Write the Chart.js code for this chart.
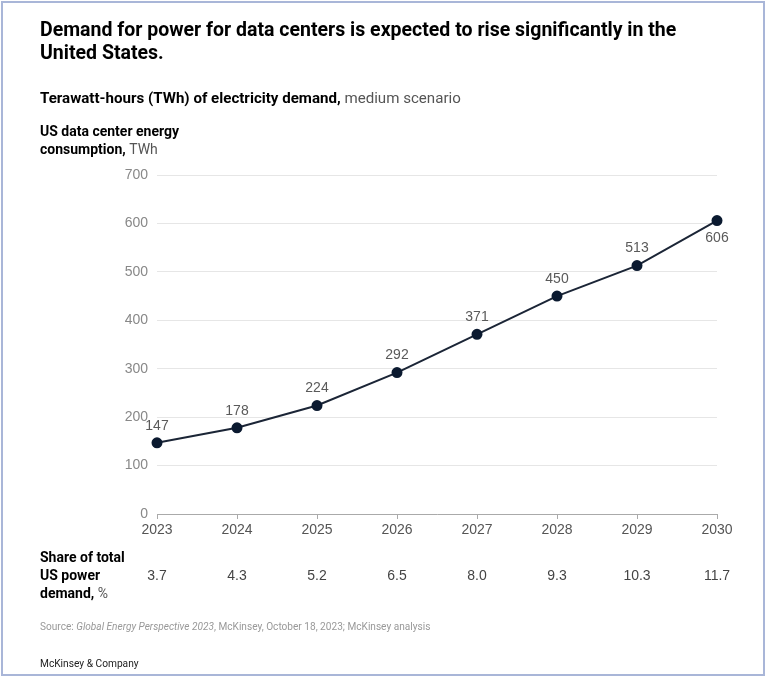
<!DOCTYPE html>
<html>
<head>
<meta charset="utf-8">
<script src="https://cdn.jsdelivr.net/npm/chart.js@4"></script>
<style>
  html, body { margin:0; padding:0; background:#fff; }
  body { width:768px; height:679px; position:relative; overflow:hidden; font-family:"Roboto","Liberation Sans",sans-serif; color:#000; }
  .frame { position:absolute; left:1px; top:1px; width:764px; height:675px; border:2px solid #a9b6d8; box-sizing:border-box; }
  .t { position:absolute; left:40px; white-space:nowrap; }
  #title { top:18px; font-size:19.5px; font-weight:bold; line-height:23px; }
  #sub { top:89px; font-size:15.1px; font-weight:bold; }
  #sub span { font-weight:normal; color:#555; }
  #ytitle { top:122px; font-size:14px; font-weight:bold; line-height:18px; }
  #ytitle span { font-weight:normal; color:#555; }
  #share { top:548px; font-size:14px; font-weight:bold; line-height:18px; }
  #share span { font-weight:normal; color:#555; }
  #source { top:621px; font-size:10.1px; color:#999; }
  #brand { top:658px; font-size:10.2px; color:#222; }
  #wrap { position:absolute; left:0; top:0; width:768px; height:679px; }
</style>
</head>
<body>
<div id="wrap"><canvas id="c"></canvas></div>
<div class="frame"></div>
<div class="t" id="title">Demand for power for data centers is expected to rise significantly in the<br>United States.</div>
<div class="t" id="sub">Terawatt-hours (TWh) of electricity demand, <span>medium scenario</span></div>
<div class="t" id="ytitle">US data center energy<br>consumption, <span>TWh</span></div>
<div class="t" id="share">Share of total<br>US power<br>demand, <span>%</span></div>
<div class="t" id="source">Source: <i>Global Energy Perspective 2023</i>, McKinsey, October 18, 2023; McKinsey analysis</div>
<div class="t" id="brand">McKinsey &amp; Company</div>
<script>
const years = ["2023","2024","2025","2026","2027","2028","2029","2030"];
const demandTWh = [147, 178, 224, 292, 371, 450, 513, 606];
const sharePct = ["3.7","4.3","5.2","6.5","8.0","9.3","10.3","11.7"];
const yTicks = [0, 100, 200, 300, 400, 500, 600, 700];

const labelPlugin = {
  id: 'labels',
  afterDatasetsDraw(chart) {
    const ctx = chart.ctx;
    const meta = chart.getDatasetMeta(0);
    const xs = chart.scales.x;
    ctx.save();
    ctx.font = '14px "Liberation Sans", Arial, sans-serif';
    ctx.fillStyle = '#5a5a5a';
    ctx.textAlign = 'center';
    meta.data.forEach((pt, i) => {
      const last = i === demandTWh.length - 1;
      if (last) {
        ctx.textBaseline = 'top';
        ctx.fillText(String(demandTWh[i]), pt.x, pt.y + 11);
      } else {
        ctx.textBaseline = 'bottom';
        ctx.fillText(String(demandTWh[i]), pt.x, pt.y - 10);
      }
    });
    ctx.textBaseline = 'middle';
    ctx.fillStyle = '#444';
    sharePct.forEach((v, i) => {
      ctx.fillText(v, xs.getPixelForValue(i), 576);
    });
    ctx.restore();
  }
};

new Chart(document.getElementById('c'), {
  type: 'line',
  data: {
    labels: years,
    datasets: [{
      data: demandTWh,
      borderColor: '#1b2536',
      borderWidth: 2,
      pointBackgroundColor: '#0b1a30',
      pointBorderColor: '#0b1a30',
      pointRadius: 4.5,
      pointHoverRadius: 4.5,
      tension: 0,
      clip: false
    }]
  },
  options: {
    responsive: true,
    maintainAspectRatio: false,
    animation: false,
    events: [],
    layout: { padding: { left: 100, top: 175, right: 51, bottom: 135 } },
    plugins: { legend: { display: false }, tooltip: { enabled: false } },
    scales: {
      x: {
        offset: false,
        grid: { drawOnChartArea: false, drawTicks: true, tickLength: 5, color: '#aaa' },
        border: { display: true, color: '#aaa', width: 1 },
        ticks: { color: '#555', font: { size: 14, family: '"Liberation Sans", Arial, sans-serif' }, padding: 3, maxRotation: 0, autoSkip: false },
        afterFit(s) { s.height = 30; }
      },
      y: {
        min: 0, max: 700,
        afterBuildTicks(s) { s.ticks = yTicks.map(v => ({ value: v })); },
        grid: { color: '#e6e6e6', drawTicks: false, lineWidth: 1 },
        border: { display: false },
        ticks: { color: '#888', font: { size: 14, family: '"Liberation Sans", Arial, sans-serif' }, padding: 9 },
        afterFit(s) { s.width = 57; }
      }
    }
  },
  plugins: [labelPlugin]
});
</script>
</body>
</html>
